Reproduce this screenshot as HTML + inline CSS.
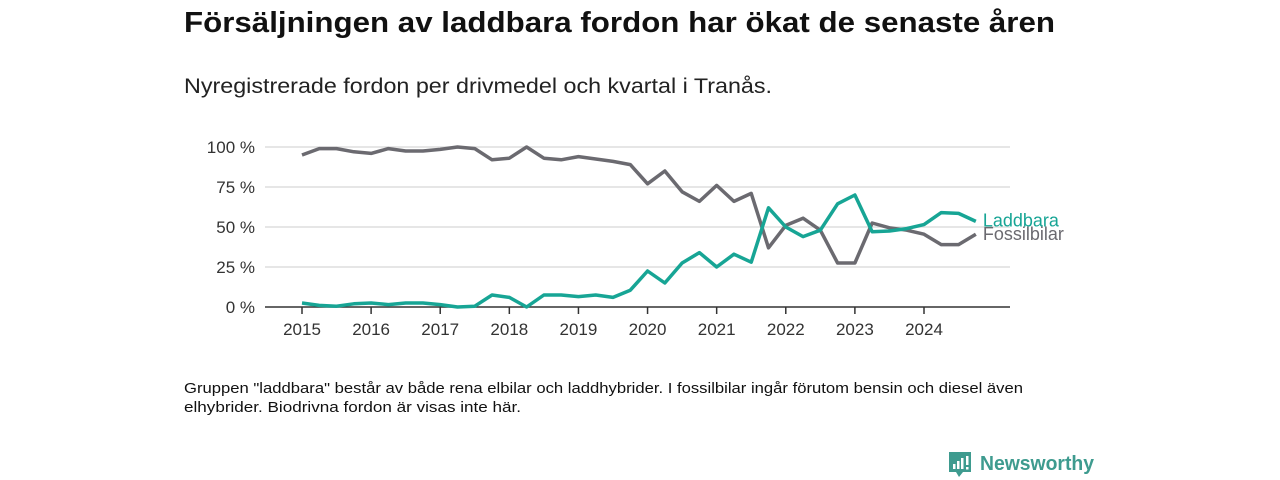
<!DOCTYPE html>
<html><head><meta charset="utf-8"><style>
body{margin:0;background:#fff;}
svg{display:block;font-family:"Liberation Sans","DejaVu Sans",sans-serif;}
</style></head><body>
<svg id="chart" width="1280" height="480" viewBox="0 0 1280 480">
<text x="184" y="32" font-size="29" font-weight="bold" fill="#111" textLength="871" lengthAdjust="spacingAndGlyphs">Försäljningen av laddbara fordon har ökat de senaste åren</text>
<text x="184" y="93" font-size="21" fill="#222" textLength="588" lengthAdjust="spacingAndGlyphs">Nyregistrerade fordon per drivmedel och kvartal i Tranås.</text>
<g id="grid"></g>
<g id="xaxis"></g>
<g id="lines"></g>
<text x="184" y="393" font-size="15" fill="#111" textLength="839" lengthAdjust="spacingAndGlyphs">Gruppen "laddbara" består av både rena elbilar och laddhybrider. I fossilbilar ingår förutom bensin och diesel även</text>
<text x="184" y="412" font-size="15" fill="#111" textLength="337" lengthAdjust="spacingAndGlyphs">elhybrider. Biodrivna fordon är visas inte här.</text>
<g>
<path d="M949 452 h22 v20 h-8 l-4 5 l-3 -5 h-7 z" fill="#3e9b8f"/>
<rect x="953" y="464" width="2.5" height="5" fill="#fff"/><rect x="957" y="461" width="2.5" height="8" fill="#fff"/><rect x="961" y="458" width="2.5" height="11" fill="#fff"/><rect x="966" y="456" width="2.5" height="9" fill="#fff"/><rect x="966" y="467" width="2.5" height="2.5" fill="#fff"/>
<text x="980" y="470" font-size="20" font-weight="bold" fill="#3e9b8f" textLength="114" lengthAdjust="spacingAndGlyphs">Newsworthy</text>
</g>
</svg>
<script>
const years=[2015,2016,2017,2018,2019,2020,2021,2022,2023,2024];
const yTicks=[0,25,50,75,100];
const laddbara=[2.5,1,0.5,2,2.5,1.5,2.5,2.5,1.5,0,0.5,7.5,6,0,7.5,7.5,6.5,7.5,6,10.5,22.5,15,27.5,34,25,33,28,62,50,44,48,64.5,70,47,47.5,49,51.5,59,58.5,53.5];
const fossil=[95,99,99,97,96,99,97.5,97.5,98.5,100,99,92,93,100,93,92,94,92.5,91,89,77,85,72,66,76,66,71,37,51,55.5,48,27.5,27.5,52.5,49.5,48,45.5,39,39,45.5];
const NS="http://www.w3.org/2000/svg";
const X=i=>302+i*(622/36);
const Y=v=>307-v*1.6;
function mk(t,a,p){const e=document.createElementNS(NS,t);for(const k in a)e.setAttribute(k,a[k]);p.appendChild(e);return e;}
const grid=document.getElementById('grid'),xa=document.getElementById('xaxis'),ln=document.getElementById('lines');
yTicks.forEach(v=>{
 if(v>0){const l=mk('line',{x1:265,x2:1010,y1:Y(v),y2:Y(v),stroke:'#ddd','stroke-width':1.5},grid);
 
 }
 const t=mk('text',{x:255,y:Y(v)+6,'font-size':17,fill:'#333','text-anchor':'end'},grid);t.textContent=v+' %';
 
 
});
const ax=mk('line',{x1:265,x2:1010,y1:307,y2:307,stroke:'#333','stroke-width':1.5},xa);


years.forEach((y,k)=>{const x=X(k*4);
 const tk=mk('line',{x1:x,x2:x,y1:307,y2:314,stroke:'#333','stroke-width':1.5},xa);
 
 
 const t=mk('text',{x:x,y:335,'font-size':17,fill:'#333','text-anchor':'middle'},xa);t.textContent=y;
 
 
});
function series(d,c,name,lab,dy){
 const p=mk('polyline',{points:d.map((v,i)=>X(i)+','+Y(v)).join(' '),fill:'none',stroke:c,'stroke-width':3.5,'stroke-linejoin':'round'},ln);
 
 
 const n=d.length-1;
 const t=mk('text',{x:X(n)+7,y:Y(d[n])+dy,'font-size':18,fill:c},ln);t.textContent=lab;
 
 
}
series(fossil,'#6b6a70','fossilbilar','Fossilbilar',6);
series(laddbara,'#17a595','laddbara','Laddbara',5);
</script>
</body></html>
